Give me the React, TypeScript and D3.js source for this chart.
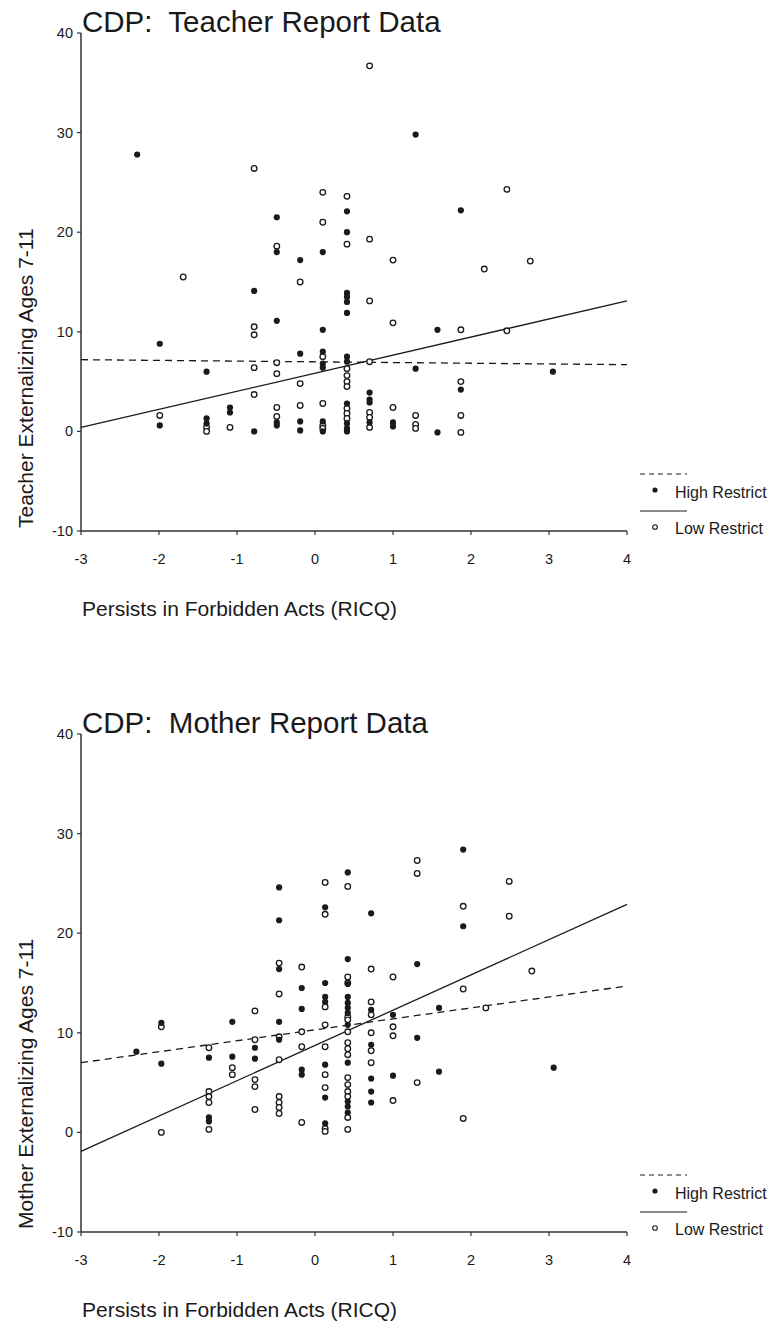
import React from 'react'
import * as d3 from 'd3'

// x = Persists in Forbidden Acts (RICQ), y = externalizing score
type Pt = [number, number]

const xTicks = [-3, -2, -1, 0, 1, 2, 3, 4]
const yTicks = [-10, 0, 10, 20, 30, 40]
const fitX = [-3, 4]

// Teacher report, high restrict (filled dots)
const teacherHigh: Pt[] = [
  [-2.28, 27.8],
  [-1.99, 8.8], [-1.99, 0.6],
  [-1.39, 6.0], [-1.39, 1.3], [-1.39, 0.8],
  [-1.09, 2.4], [-1.09, 1.9],
  [-0.78, 14.1], [-0.78, 0.0],
  [-0.49, 21.5], [-0.49, 18.0], [-0.49, 11.1], [-0.49, 0.9], [-0.49, 0.6],
  [-0.19, 17.2], [-0.19, 7.8], [-0.19, 1.0], [-0.19, 0.1],
  [0.1, 18.0], [0.1, 10.2], [0.1, 8.0], [0.1, 6.8], [0.1, 6.4], [0.1, 1.0], [0.1, 0.0],
  [0.41, 22.1], [0.41, 20.0], [0.41, 13.9], [0.41, 13.5], [0.41, 13.0], [0.41, 11.9],
  [0.41, 7.5], [0.41, 7.0], [0.41, 2.8], [0.41, 0.8], [0.41, 0.3], [0.41, 0.0],
  [0.7, 3.9], [0.7, 3.2], [0.7, 2.9], [0.7, 0.9],
  [1.0, 0.9], [1.0, 0.5],
  [1.29, 29.8], [1.29, 6.3],
  [1.57, 10.2], [1.57, -0.1],
  [1.87, 22.2], [1.87, 4.2],
  [3.05, 6.0],
]

// Teacher report, low restrict (open dots)
const teacherLow: Pt[] = [
  [-1.99, 1.6],
  [-1.69, 15.5],
  [-1.39, 0.4], [-1.39, 0.0],
  [-1.09, 0.4],
  [-0.78, 26.4], [-0.78, 10.5], [-0.78, 9.7], [-0.78, 6.4], [-0.78, 3.7],
  [-0.49, 18.6], [-0.49, 6.9], [-0.49, 5.8], [-0.49, 2.4], [-0.49, 1.5],
  [-0.19, 15.0], [-0.19, 4.8], [-0.19, 2.6],
  [0.1, 24.0], [0.1, 21.0], [0.1, 7.5], [0.1, 2.8], [0.1, 0.6], [0.1, 0.3],
  [0.41, 23.6], [0.41, 18.8], [0.41, 6.3], [0.41, 5.6], [0.41, 5.0], [0.41, 4.5],
  [0.41, 2.3], [0.41, 1.8], [0.41, 1.3],
  [0.7, 36.7], [0.7, 19.3], [0.7, 13.1], [0.7, 7.0], [0.7, 1.9], [0.7, 1.4], [0.7, 0.4],
  [1.0, 17.2], [1.0, 10.9], [1.0, 2.4],
  [1.29, 1.6], [1.29, 0.7], [1.29, 0.3],
  [1.87, 10.2], [1.87, 5.0], [1.87, 1.6], [1.87, -0.1],
  [2.17, 16.3],
  [2.46, 24.3], [2.46, 10.1],
  [2.76, 17.1],
]

// Mother report, high restrict (filled dots)
const motherHigh: Pt[] = [
  [-2.29, 8.1],
  [-1.97, 11.0], [-1.97, 6.9],
  [-1.36, 7.5], [-1.36, 1.5], [-1.36, 1.1],
  [-1.06, 11.1], [-1.06, 7.6],
  [-0.77, 8.5], [-0.77, 7.4],
  [-0.46, 24.6], [-0.46, 21.3], [-0.46, 16.4], [-0.46, 11.1], [-0.46, 9.3],
  [-0.17, 14.5], [-0.17, 12.4], [-0.17, 6.3], [-0.17, 5.8],
  [0.13, 22.6], [0.13, 15.0], [0.13, 13.6], [0.13, 13.1], [0.13, 6.8], [0.13, 3.5], [0.13, 0.9],
  [0.42, 26.1], [0.42, 17.4], [0.42, 14.9], [0.42, 13.6], [0.42, 13.0], [0.42, 12.5],
  [0.42, 12.0], [0.42, 10.8], [0.42, 7.0], [0.42, 3.1], [0.42, 2.6], [0.42, 2.0],
  [0.72, 22.0], [0.72, 12.3], [0.72, 8.8], [0.72, 5.4], [0.72, 4.1], [0.72, 3.0],
  [1.0, 11.8], [1.0, 5.7],
  [1.31, 16.9], [1.31, 9.5],
  [1.59, 12.5], [1.59, 6.1],
  [1.9, 28.4], [1.9, 20.7],
  [3.06, 6.5],
]

// Mother report, low restrict (open dots)
const motherLow: Pt[] = [
  [-1.97, 10.6], [-1.97, 0.0],
  [-1.36, 8.5], [-1.36, 4.1], [-1.36, 3.6], [-1.36, 3.0], [-1.36, 0.3],
  [-1.06, 6.5], [-1.06, 5.8],
  [-0.77, 12.2], [-0.77, 9.3], [-0.77, 5.3], [-0.77, 4.6], [-0.77, 2.3],
  [-0.46, 17.0], [-0.46, 13.9], [-0.46, 9.6], [-0.46, 7.3], [-0.46, 3.6], [-0.46, 3.0],
  [-0.46, 2.5], [-0.46, 1.9],
  [-0.17, 16.6], [-0.17, 10.1], [-0.17, 8.6], [-0.17, 1.0],
  [0.13, 25.1], [0.13, 21.9], [0.13, 12.6], [0.13, 10.8], [0.13, 8.6], [0.13, 5.8],
  [0.13, 4.5], [0.13, 0.4], [0.13, 0.1],
  [0.42, 24.7], [0.42, 15.6], [0.42, 15.0], [0.42, 11.6], [0.42, 11.3], [0.42, 10.1],
  [0.42, 9.0], [0.42, 8.4], [0.42, 7.8], [0.42, 5.5], [0.42, 4.8], [0.42, 4.1],
  [0.42, 3.6], [0.42, 1.5], [0.42, 0.3],
  [0.72, 16.4], [0.72, 13.1], [0.72, 11.8], [0.72, 10.0], [0.72, 8.2], [0.72, 7.0],
  [1.0, 15.6], [1.0, 10.6], [1.0, 9.7], [1.0, 3.2],
  [1.31, 27.3], [1.31, 26.0], [1.31, 5.0],
  [1.9, 22.7], [1.9, 14.4], [1.9, 1.4],
  [2.19, 12.5],
  [2.49, 25.2], [2.49, 21.7],
  [2.78, 16.2],
]

// fitted line values at x = -3 and x = 4
const teacherHighFit = [7.2, 6.7]
const teacherLowFit = [0.4, 13.1]
const motherHighFit = [7.0, 14.7]
const motherLowFit = [-1.9, 22.9]

const FONT = '"Liberation Sans", Arial, Helvetica, sans-serif'
const INK = '#1a1a1a'

const Panel = ({ top, title, yLabel, high, low, highFit, lowFit }) => {
  // plot box is the same for both panels, only shifted down
  const x = d3.scaleLinear().domain([-3, 4]).range([81, 627])
  const y = d3.scaleLinear().domain([-10, 40]).range([top + 498, top])
  const y0 = y(-10)

  const line = d3
    .line<number>()
    .x((d, i) => x(fitX[i]))
    .y((d) => y(d))

  const legY = y0 - 57

  return (
    <g fontFamily={FONT} fill={INK}>
      <text x={82} y={top - 1} fontSize={29.5} style={{ whiteSpace: 'pre' }}>
        {title}
      </text>

      {/* axes */}
      <line x1={81} x2={81} y1={top} y2={y0} stroke="#333" strokeWidth={1.5} />
      <line x1={81} x2={627} y1={y0} y2={y0} stroke="#333" strokeWidth={1.5} />
      {yTicks.map((t) => (
        <g key={`y${t}`}>
          <line x1={77} x2={81} y1={y(t)} y2={y(t)} stroke="#333" strokeWidth={1.2} />
          <text x={73} y={y(t) + 5} fontSize={14.5} textAnchor="end">
            {t}
          </text>
        </g>
      ))}
      {xTicks.map((t) => (
        <g key={`x${t}`}>
          <line x1={x(t)} x2={x(t)} y1={y0} y2={y0 + 4} stroke="#333" strokeWidth={1.2} />
          <text x={x(t)} y={y0 + 33} fontSize={14.5} textAnchor="middle">
            {t}
          </text>
        </g>
      ))}

      <text
        transform={`translate(33 ${y0 - 3}) rotate(-90)`}
        fontSize={21}
        textAnchor="start"
      >
        {yLabel}
      </text>
      <text x={82} y={y0 + 85} fontSize={21}>
        Persists in Forbidden Acts (RICQ)
      </text>

      {/* fit lines */}
      <path d={line(highFit)} fill="none" stroke={INK} strokeWidth={1.3} strokeDasharray="7 5" />
      <path d={line(lowFit)} fill="none" stroke={INK} strokeWidth={1.3} />

      {/* points */}
      {low.map((d, i) => (
        <circle
          key={`l${i}`}
          cx={x(d[0])}
          cy={y(d[1])}
          r={2.8}
          fill="#fff"
          stroke={INK}
          strokeWidth={1.3}
        />
      ))}
      {high.map((d, i) => (
        <circle key={`h${i}`} cx={x(d[0])} cy={y(d[1])} r={3.1} fill={INK} />
      ))}

      {/* legend */}
      <line x1={640} x2={687} y1={legY} y2={legY} stroke={INK} strokeWidth={1.2} strokeDasharray="5 4" />
      <circle cx={655} cy={legY + 16} r={2.6} fill={INK} />
      <text x={675} y={legY + 24} fontSize={16}>
        High Restrict
      </text>
      <line x1={640} x2={687} y1={legY + 37} y2={legY + 37} stroke={INK} strokeWidth={1.2} />
      <circle cx={655} cy={legY + 53} r={2.3} fill="#fff" stroke={INK} strokeWidth={1.1} />
      <text x={675} y={legY + 60} fontSize={16}>
        Low Restrict
      </text>
    </g>
  )
}

export default function App() {
  return (
    <svg
      width={775}
      height={1323}
      style={{ position: 'absolute', left: 0, top: 0, background: '#fff' }}
    >
      <rect width={775} height={1323} fill="#fff" />
      <Panel
        top={33}
        title={'CDP:\u00a0 Teacher Report Data'}
        yLabel="Teacher Externalizing Ages 7-11"
        high={teacherHigh}
        low={teacherLow}
        highFit={teacherHighFit}
        lowFit={teacherLowFit}
      />
      <Panel
        top={734}
        title={'CDP:\u00a0 Mother Report Data'}
        yLabel="Mother Externalizing Ages 7-11"
        high={motherHigh}
        low={motherLow}
        highFit={motherHighFit}
        lowFit={motherLowFit}
      />
    </svg>
  )
}
